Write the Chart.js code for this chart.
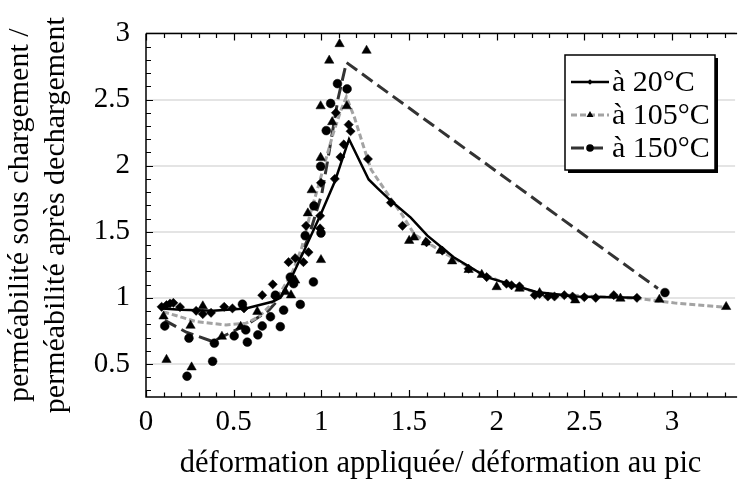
<!DOCTYPE html>
<html>
<head>
<meta charset="utf-8">
<script src="https://cdn.jsdelivr.net/npm/chart.js@4/dist/chart.umd.min.js"></script>
<style>
  html, body { margin: 0; padding: 0; background: #fff; }
  #wrap { width: 741px; height: 481px; position: relative; }
</style>
</head>
<body>
<div id="wrap"><canvas id="c" width="741" height="481"></canvas></div>
<script>
// ---------- DATA ----------
const seriesLabels = ['à 20°C', 'à 105°C', 'à 150°C'];
const xTickValues = [0, 0.5, 1, 1.5, 2, 2.5, 3];
const yTickValues = [0.5, 1, 1.5, 2, 2.5, 3];

// measured points, 20°C (diamonds)
const pts20X = [0.089,0.117,0.137,0.156,0.194,0.286,0.324,0.371,0.446,0.493,0.559,0.663,0.723,0.738,0.813,0.851,0.898,0.913,0.927,0.993,0.993,0.998,1.077,1.109,1.128,1.083,1.156,1.167,1.266,1.397,1.463,1.60,1.69,1.84,1.943,2.056,2.085,2.13,2.217,2.245,2.292,2.33,2.386,2.433,2.5,2.565,2.668,2.8];
const pts20Y = [0.932,0.945,0.957,0.962,0.93,0.902,0.877,0.887,0.932,0.92,0.92,1.02,1.102,1.01,1.27,1.30,1.27,1.545,1.345,1.62,1.525,1.87,1.90,2.065,2.16,2.40,2.31,2.26,2.05,1.72,1.545,1.42,1.357,1.22,1.157,1.107,1.095,1.087,1.02,1.03,1.01,1.01,1.02,1.01,1.005,1.0,1.02,1.0];

// measured points, 105°C (triangles)
const pts105X = [0.117,0.10,0.254,0.26,0.324,0.433,0.54,0.635,0.795,0.827,0.851,0.923,0.945,0.998,0.996,0.996,1.045,1.062,1.104,1.145,1.258,1.501,1.529,1.595,1.68,1.746,1.84,1.915,2.0,2.13,2.245,2.448,2.706,2.928,3.309];
const pts105Y = [0.532,0.86,0.79,0.475,0.937,0.707,0.782,0.895,1.045,1.02,1.132,1.64,1.815,1.287,2.06,2.45,2.795,2.33,2.92,2.45,2.87,1.432,1.457,1.42,1.357,1.277,1.212,1.175,1.082,1.07,1.037,0.982,0.995,0.987,0.932];

// measured points, 150°C (circles)
const pts150X = [0.107,0.245,0.234,0.38,0.39,0.503,0.55,0.569,0.578,0.638,0.663,0.71,0.766,0.785,0.738,0.823,0.842,0.88,0.955,0.908,0.958,0.998,0.996,1.028,1.053,1.092,1.147,2.96];
const pts150Y = [0.787,0.695,0.407,0.52,0.657,0.712,0.952,0.757,0.665,0.72,0.787,0.857,0.782,0.907,1.02,1.157,1.107,0.95,1.12,1.47,1.695,1.49,1.995,2.265,2.47,2.62,2.58,1.04];

// trend curves
const line20X = [0.089,0.2,0.381,0.569,0.72,0.766,0.832,0.908,0.993,1.077,1.158,1.27,1.32,1.40,1.51,1.605,1.755,1.943,2.226,2.45,2.8];
const line20Y = [0.92,0.91,0.902,0.92,0.97,1.0,1.16,1.375,1.62,1.88,2.2,1.895,1.83,1.73,1.607,1.47,1.307,1.157,1.044,1.01,1.0];

const line105X = [0.098,0.286,0.456,0.569,0.644,0.701,0.757,0.832,0.889,0.936,0.983,1.068,1.115,1.143,1.19,1.237,1.284,1.36,1.46,1.53,1.70,1.887,2.075,2.26,2.81,3.02,3.30];
const line105Y = [0.895,0.82,0.795,0.807,0.857,0.932,1.02,1.182,1.382,1.632,1.845,2.245,2.43,2.52,2.36,2.16,1.97,1.82,1.63,1.48,1.34,1.2,1.095,1.03,0.995,0.96,0.93];

const line150X = [0.107,0.23,0.38,0.475,0.588,0.701,0.776,0.851,0.927,1.002,1.04,1.096,1.143,2.92];
const line150Y = [0.83,0.74,0.67,0.732,0.807,0.907,1.02,1.232,1.457,1.782,2.07,2.51,2.78,1.07];

// ---------- BUILD ----------
const zip = (xs, ys) => xs.map((x, i) => ({x: x, y: ys[i]}));
const FONT = "'Liberation Serif', 'Times New Roman', serif";

const lineStyles = [
  {color: '#000000', width: 2.5, dash: []},
  {color: '#a3a3a3', width: 3, dash: [6, 3]},
  {color: '#333333', width: 3, dash: [13, 6]}
];
const markerStyles = ['rectRot', 'triangle', 'circle'];
const markerRadii = [4.6, 5.4, 4.4];

const ptsData = [zip(pts20X, pts20Y), zip(pts105X, pts105Y), zip(pts150X, pts150Y)];
const lineData = [zip(line20X, line20Y), zip(line105X, line105Y), zip(line150X, line150Y)];

const datasets = [];
for (let i = 0; i < 3; i++) {
  datasets.push({
    label: seriesLabels[i] + ' pts',
    data: ptsData[i],
    showLine: false,
    pointStyle: markerStyles[i],
    pointRadius: markerRadii[i],
    pointBackgroundColor: '#000',
    pointBorderColor: '#000',
    pointBorderWidth: 0.5,
    pointHoverRadius: markerRadii[i]
  });
}
for (let i = 0; i < 3; i++) {
  datasets.push({
    label: seriesLabels[i],
    data: lineData[i],
    showLine: true,
    borderColor: lineStyles[i].color,
    borderWidth: lineStyles[i].width,
    borderDash: lineStyles[i].dash,
    pointRadius: 0,
    tension: 0,
    fill: false
  });
}

function drawMarker(ctx, style, x, y, r) {
  ctx.beginPath();
  if (style === 'circle') {
    ctx.arc(x, y, r, 0, Math.PI * 2);
  } else if (style === 'triangle') {
    ctx.moveTo(x, y - r);
    ctx.lineTo(x + r * 0.866, y + r * 0.5);
    ctx.lineTo(x - r * 0.866, y + r * 0.5);
    ctx.closePath();
  } else {
    ctx.moveTo(x - r, y); ctx.lineTo(x, y - r); ctx.lineTo(x + r, y); ctx.lineTo(x, y + r);
    ctx.closePath();
  }
  ctx.fill();
}

const axisDecor = {
  id: 'axisDecor',
  beforeDatasetsDraw(chart) {
    const {ctx, chartArea: ca, scales: {x, y}} = chart;
    ctx.save();
    ctx.strokeStyle = '#000';
    ctx.lineWidth = 1.5;
    ctx.beginPath();
    ctx.moveTo(ca.left, ca.top); ctx.lineTo(ca.right + 2, ca.top);
    ctx.moveTo(ca.left, ca.top); ctx.lineTo(ca.left, ca.bottom);
    ctx.lineTo(ca.right + 2, ca.bottom);
    ctx.stroke();
    ctx.lineWidth = 1.2;
    ctx.beginPath();
    for (let i = 0; i <= 40; i++) {
      const v = i / 10;
      if (v > x.max) break;
      const px = Math.round(x.getPixelForValue(v)) + 0.5;
      const L = (i % 5 === 0) ? 7 : 4.5;
      ctx.moveTo(px, ca.top); ctx.lineTo(px, ca.top + L);
      ctx.moveTo(px, ca.bottom); ctx.lineTo(px, ca.bottom - L);
    }
    for (let i = 3; i <= 30; i++) {
      const v = i / 10;
      if (v < y.min) continue;
      const py = Math.round(y.getPixelForValue(v)) + 0.5;
      const L = (i % 5 === 0) ? 7 : 5;
      ctx.moveTo(ca.left, py); ctx.lineTo(ca.left + L, py);
    }
    ctx.stroke();
    ctx.restore();
  }
};

const legendBox = {
  id: 'legendBox',
  afterDraw(chart) {
    const ctx = chart.ctx;
    const bx = 565, by = 55, bw = 150, bh = 115;
    ctx.save();
    ctx.fillStyle = '#000';
    ctx.fillRect(bx + 3, by + 3, bw, bh);
    ctx.fillStyle = '#fff';
    ctx.fillRect(bx, by, bw, bh);
    ctx.strokeStyle = '#000';
    ctx.lineWidth = 1.5;
    ctx.strokeRect(bx, by, bw, bh);
    const rows = [82, 115, 148];
    ctx.font = '30px ' + FONT;
    ctx.textBaseline = 'middle';
    ctx.textAlign = 'left';
    for (let i = 0; i < 3; i++) {
      const ry = rows[i];
      const ls = lineStyles[i];
      ctx.strokeStyle = ls.color;
      ctx.lineWidth = ls.width;
      ctx.setLineDash(ls.dash);
      ctx.beginPath();
      ctx.moveTo(571, ry); ctx.lineTo(609, ry);
      ctx.stroke();
      ctx.setLineDash([]);
      ctx.fillStyle = '#000';
      drawMarker(ctx, markerStyles[i], 590, ry, [2.8, 4, 3.8][i]);
      ctx.fillStyle = '#000';
      ctx.fillText(seriesLabels[i], 612, ry + 1);
    }
    ctx.restore();
  }
};

new Chart(document.getElementById('c'), {
  type: 'scatter',
  data: {datasets: datasets},
  options: {
    responsive: false,
    animation: false,
    events: [],
    layout: {padding: {top: 31, right: 0, bottom: 0, left: 0}},
    plugins: {legend: {display: false}, tooltip: {enabled: false}},
    elements: {line: {borderCapStyle: 'butt'}},
    scales: {
      x: {
        type: 'linear',
        min: 0, max: 3.36,
        afterBuildTicks: s => { s.ticks = xTickValues.map(v => ({value: v})); },
        afterFit: s => { s.height = 84; },
        grid: {display: false, drawTicks: false},
        border: {display: false},
        ticks: {
          color: '#000', padding: 8,
          font: {family: FONT, size: 29},
          maxRotation: 0, autoSkip: false,
          callback: v => String(v)
        },
        title: {
          display: true,
          text: 'déformation appliquée/ déformation au pic',
          color: '#000',
          font: {family: FONT, size: 30.5},
          padding: {top: 0, bottom: -1}
        }
      },
      y: {
        type: 'linear',
        min: 0.25, max: 3,
        afterBuildTicks: s => { s.ticks = yTickValues.map(v => ({value: v})); },
        afterFit: s => { s.width = 146; },
        grid: {display: true, drawTicks: false, color: '#e4e4e4', lineWidth: 2},
        border: {display: false},
        ticks: {
          color: '#000', padding: 16,
          font: {family: FONT, size: 29},
          autoSkip: false,
          callback: v => String(v)
        },
        title: {
          display: true,
          text: ['perméabilité sous chargement /', 'perméabilité après dechargement'],
          color: '#000',
          font: {family: FONT, size: 30},
          padding: {top: 2, bottom: 0}
        }
      }
    }
  },
  plugins: [axisDecor, legendBox]
});
</script>
</body>
</html>
